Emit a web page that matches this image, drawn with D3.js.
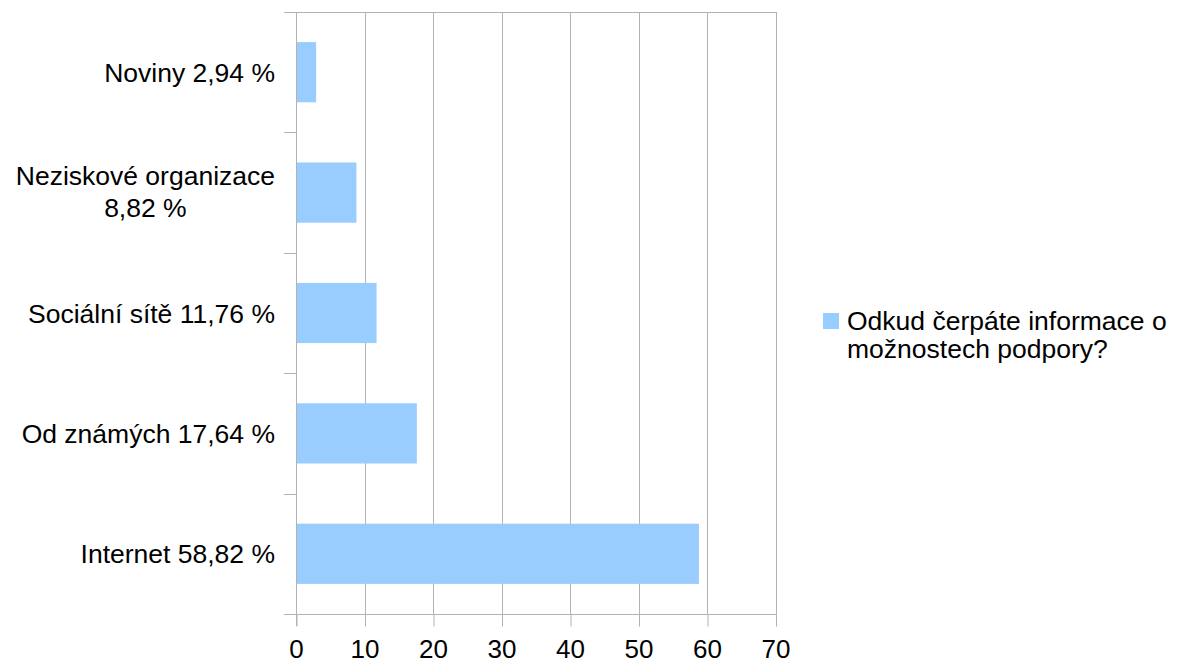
<!DOCTYPE html>
<html><head><meta charset="utf-8">
<script src="https://cdn.jsdelivr.net/npm/d3@7"></script>
<style>body{margin:0;background:#fff}svg{display:block}</style>
</head><body>
<svg id="c" width="1183" height="664"></svg>
<script>
const categories = [["Noviny 2,94 %"], ["Neziskové organizace", "8,82 %"], ["Sociální sítě 11,76 %"], ["Od známých 17,64 %"], ["Internet 58,82 %"]];
const values = [2.94, 8.82, 11.76, 17.64, 58.82];
const xTicks = [0, 10, 20, 30, 40, 50, 60, 70];
const seriesName = ["Odkud čerpáte informace o", "možnostech podpory?"];

(function () {
const svg = d3.select("#c");
const font = "Liberation Sans, Arial, sans-serif";
const grid = "#b3b3b3";
const pL = 296, pR = 775.5, pT = 12, pB = 614;

const x = d3.scaleLinear().domain([0, 70]).range([pL, pR]);
const keys = categories.map((c, i) => i);
const y = d3.scaleBand().domain(keys).range([pT, pB]).paddingInner(0.5).paddingOuter(0.25);
const step = y.step();

// vertical gridlines
svg.append("g").selectAll("line").data(xTicks.filter(d => d > 0)).join("line")
  .attr("x1", d => Math.round(x(d)) + 0.5).attr("x2", d => Math.round(x(d)) + 0.5)
  .attr("y1", pT).attr("y2", pB)
  .attr("stroke", grid).attr("stroke-width", 1);

// top line
svg.append("line").attr("x1", pL - 12).attr("x2", Math.round(pR) + 0.5)
  .attr("y1", pT + 0.5).attr("y2", pT + 0.5).attr("stroke", grid);

// bars
svg.append("g").selectAll("rect").data(values).join("rect")
  .attr("x", x(0)).attr("y", (d, i) => y(i))
  .attr("width", d => x(d) - x(0)).attr("height", y.bandwidth())
  .attr("fill", "#99ccff");

// x axis
const xAxis = d3.axisBottom(x).tickValues(xTicks).tickSize(12).tickPadding(13).tickSizeOuter(0);
const gx = svg.append("g").attr("transform", `translate(0,${pB + 0.5})`).call(xAxis);
gx.select(".domain").remove();
gx.selectAll(".tick line").attr("stroke", grid).attr("transform", "translate(0.5,0)");
gx.selectAll(".tick text").attr("font-family", font).attr("font-size", 26).attr("fill", "#000").attr("dy", "0.71em");
svg.append("line").attr("x1", pL - 12).attr("x2", Math.round(pR) + 0.5)
  .attr("y1", pB + 0.5).attr("y2", pB + 0.5).attr("stroke", grid);

// y axis line
svg.append("line").attr("x1", pL + 0.5).attr("x2", pL + 0.5)
  .attr("y1", pT).attr("y2", pB + 12).attr("stroke", grid);

// category boundary ticks
const bounds = d3.range(categories.length + 1).map(i => pT + i * step);
svg.append("g").selectAll("line").data(bounds).join("line")
  .attr("x1", pL - 12).attr("x2", pL)
  .attr("y1", d => Math.round(d) + 0.5).attr("y2", d => Math.round(d) + 0.5)
  .attr("stroke", grid);

// category labels
const lh = 32;
const labelG = svg.append("g");
categories.forEach((lines, i) => {
  const cy = y(i) + y.bandwidth() / 2;
  const t = labelG.append("text").attr("font-family", font).attr("font-size", 26.5).attr("fill", "#000");
  if (lines.length === 1) {
    t.attr("x", 275).attr("y", cy).attr("dy", "0.36em").attr("text-anchor", "end").text(lines[0]);
  } else {
    lines.forEach((l, j) => t.append("tspan").attr("x", 0).attr("y", cy - 1 + (j - (lines.length - 1) / 2) * lh)
      .attr("dy", "0.36em").attr("text-anchor", "middle").text(l));
    const w = t.node().getBBox().width;
    t.attr("transform", `translate(${275 - w / 2},0)`);
  }
});

// legend
const lg = svg.append("g");
lg.append("rect").attr("x", 823).attr("y", 313).attr("width", 16).attr("height", 16).attr("fill", "#99ccff");
const lt = lg.append("text").attr("font-family", font).attr("font-size", 26.5).attr("fill", "#000");
seriesName.forEach((s, j) => lt.append("tspan").attr("x", 847).attr("y", 330 + j * 28).text(s));
})();
</script>
</body></html>
